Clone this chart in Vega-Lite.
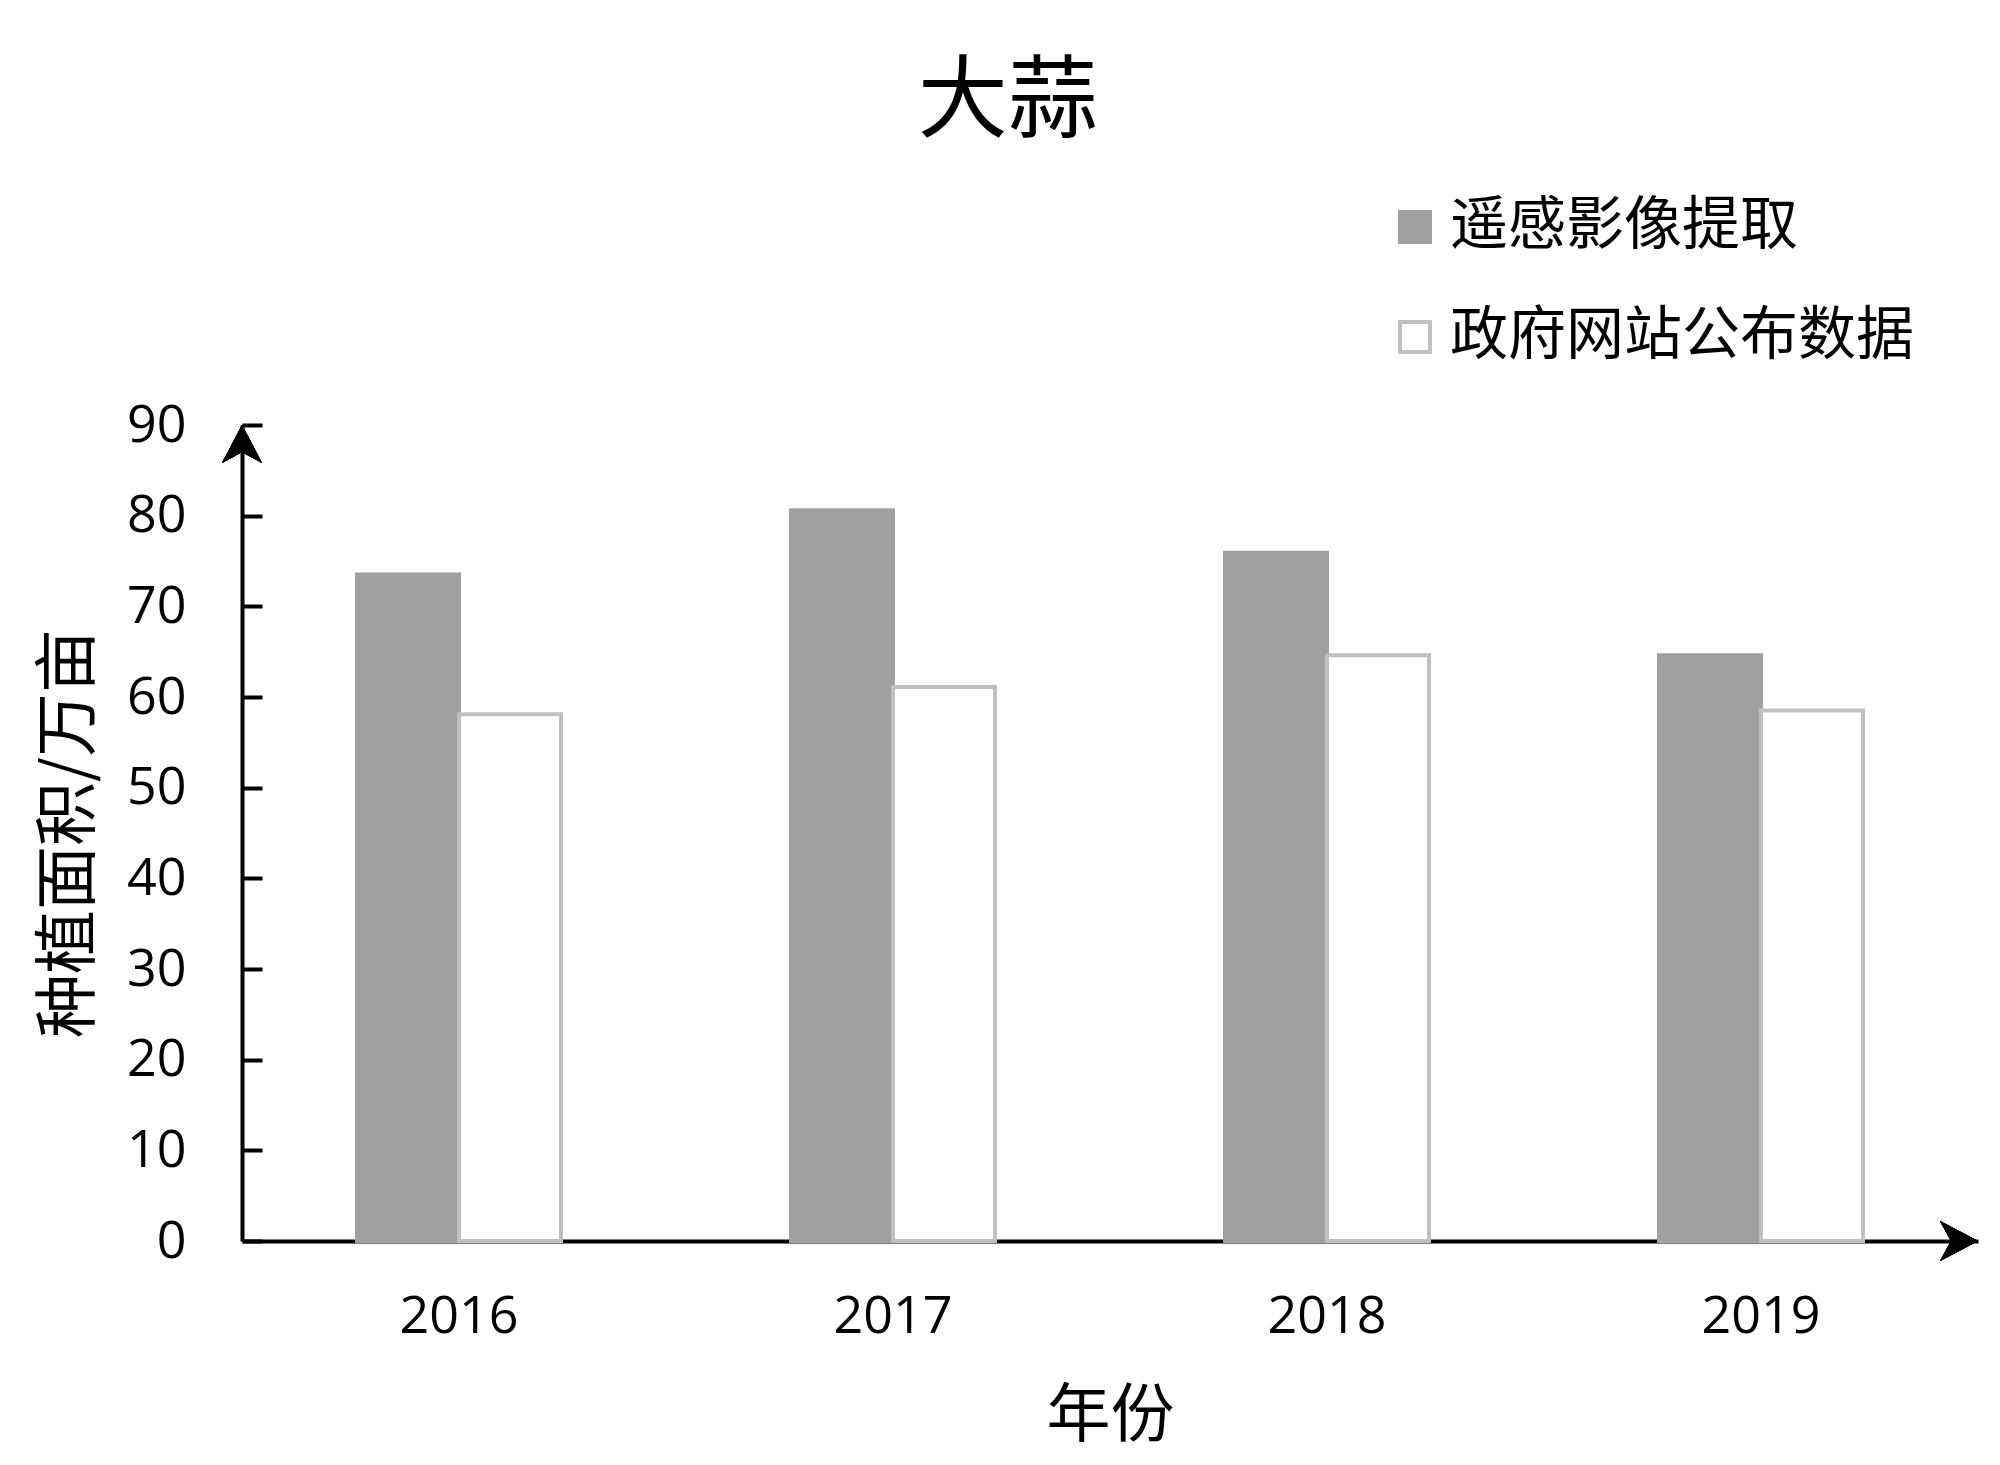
{
  "$schema": "https://vega.github.io/schema/vega-lite/v6.json",
  "width": 1736,
  "height": 816,
  "autosize": {"type": "none"},
  "padding": {"left": 242, "top": 425, "right": 22, "bottom": 224},
  "background": "white",
  "title": {
    "text": "大蒜",
    "font": "Noto Sans CJK SC",
    "fontSize": 90,
    "fontWeight": "normal",
    "color": "black",
    "anchor": "middle",
    "frame": "bounds",
    "offset": 49
  },
  "config": {
    "view": {"stroke": null}
  },
  "data": {
    "values": [
      {"year": "2016", "source": "遥感影像提取", "value": 73.5},
      {"year": "2016", "source": "政府网站公布数据", "value": 58.1},
      {"year": "2017", "source": "遥感影像提取", "value": 80.6},
      {"year": "2017", "source": "政府网站公布数据", "value": 61.1},
      {"year": "2018", "source": "遥感影像提取", "value": 75.9},
      {"year": "2018", "source": "政府网站公布数据", "value": 64.6},
      {"year": "2019", "source": "遥感影像提取", "value": 64.6},
      {"year": "2019", "source": "政府网站公布数据", "value": 58.5}
    ]
  },
  "layer": [
    {
      "mark": {"type": "bar", "strokeWidth": 4},
      "encoding": {
        "x": {
          "field": "year",
          "type": "nominal",
          "scale": {"paddingInner": 0.53, "paddingOuter": 0.265},
          "axis": {
            "title": "年份",
            "titleFont": "Noto Sans CJK SC",
            "titleFontSize": 64,
            "titleFontWeight": "normal",
            "titleColor": "black",
            "titlePadding": 42,
            "labelFont": "Open Sans",
            "labelFontSize": 52,
            "labelColor": "black",
            "labelAngle": 0,
            "labelPadding": 50,
            "ticks": false,
            "domainColor": "black",
            "domainWidth": 4
          }
        },
        "xOffset": {
          "field": "source",
          "type": "nominal",
          "scale": {"domain": ["遥感影像提取", "政府网站公布数据"], "paddingInner": 0, "paddingOuter": 0}
        },
        "y": {
          "field": "value",
          "type": "quantitative",
          "scale": {"domain": [0, 90], "nice": false},
          "axis": {
            "title": "种植面积/万亩",
            "titleFont": "Noto Sans CJK SC",
            "titleFontSize": 64,
            "titleFontWeight": "normal",
            "titleColor": "black",
            "titlePadding": 25,
            "values": [0, 10, 20, 30, 40, 50, 60, 70, 80, 90],
            "labelFont": "Open Sans",
            "labelFontSize": 52,
            "labelColor": "black",
            "labelPadding": 76,
            "tickSize": -20,
            "tickColor": "black",
            "tickWidth": 4,
            "grid": false,
            "domainColor": "black",
            "domainWidth": 4
          }
        },
        "fill": {
          "field": "source",
          "type": "nominal",
          "scale": {"domain": ["遥感影像提取", "政府网站公布数据"], "range": ["#a0a0a0", "#ffffff"]},
          "legend": {
            "title": null,
            "orient": "none",
            "legendX": 1144,
            "legendY": -227,
            "padding": 0,
            "symbolType": "square",
            "symbolSize": 900,
            "symbolStrokeWidth": 4,
            "symbolOpacity": 1,
            "labelFont": "Noto Sans CJK SC",
            "labelFontSize": 58,
            "labelColor": "black",
            "labelOffset": 6,
            "labelLimit": 0,
            "rowPadding": 52
          }
        },
        "stroke": {
          "field": "source",
          "type": "nominal",
          "scale": {"domain": ["遥感影像提取", "政府网站公布数据"], "range": ["#a0a0a0", "#c0c0c0"]}
        }
      }
    },
    {
      "mark": {"type": "point", "shape": "M0,0 L1,1.9 L0,1.35 L-1,1.9 Z", "size": 1600, "filled": true, "color": "black", "opacity": 1},
      "encoding": {
        "x": {"value": 0},
        "y": {"datum": 90}
      }
    },
    {
      "mark": {"type": "point", "shape": "M0,0 L-1.9,-1 L-1.35,0 L-1.9,1 Z", "size": 1600, "filled": true, "color": "black", "opacity": 1},
      "encoding": {
        "x": {"value": {"expr": "width"}},
        "y": {"datum": 0}
      }
    }
  ]
}
